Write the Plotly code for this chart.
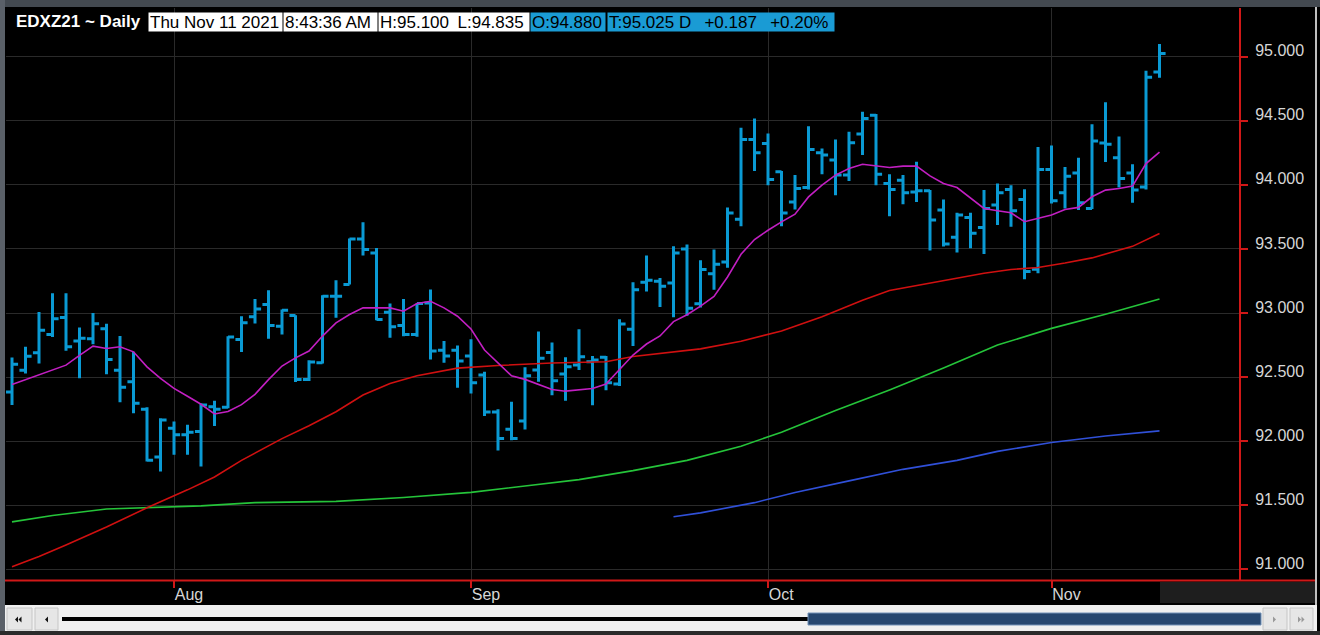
import plotly.graph_objects as go

# ---------------- data ----------------
bar_idx = list(range(86))
month_tick_idx = [12, 34, 56, 77]
month_labels = ["Aug", "Sep", "Oct", "Nov"]
price_ticks = [91.0, 91.5, 92.0, 92.5, 93.0, 93.5, 94.0, 94.5, 95.0]

opens = [92.383, 92.554, 92.689, 92.832, 92.964, 92.782, 92.800, 92.878, 92.554, 92.464,
         92.249, 91.876, 92.101, 92.049, 92.075, 92.269, 92.264, 92.794, 92.970, 93.066,
         92.897, 92.980, 92.482, 92.612, 93.131, 93.222, 93.578, 93.469, 93.006, 92.903,
         92.832, 93.079, 92.710, 92.710, 92.664, 92.516, 92.228, 92.093, 92.158, 92.555,
         92.691, 92.524, 92.594, 92.620, 92.654, 92.445, 92.873, 93.239, 93.247, 93.234,
         93.500, 93.073, 93.307, 93.398, 93.732, 94.354, 94.323, 94.102, 93.867, 93.979,
         94.250, 94.193, 94.076, 94.396, 94.544, 94.010, 94.036, 93.945, 93.953, 93.803,
         93.591, 93.746, 93.668, 93.842, 93.964, 93.886, 93.342, 94.119, 93.938, 94.093,
         93.816, 94.326, 94.212, 94.093, 93.984, 94.880]
highs = [92.653, 92.736, 93.008, 93.155, 93.155, 92.886, 93.000, 92.917, 92.821, 92.697,
         92.264, 92.179, 92.153, 92.127, 92.295, 92.316, 92.819, 92.975, 93.110, 93.178,
         93.027, 92.983, 92.632, 93.139, 93.256, 93.581, 93.708, 93.508, 93.074, 93.110,
         93.074, 93.183, 92.781, 92.747, 92.795, 92.542, 92.249, 92.307, 92.576, 92.855,
         92.769, 92.654, 92.873, 92.664, 92.664, 92.952, 93.239, 93.448, 93.273, 93.521,
         93.534, 93.411, 93.495, 93.823, 94.445, 94.518, 94.401, 94.109, 94.076, 94.458,
         94.284, 94.354, 94.414, 94.570, 94.552, 94.083, 94.076, 94.180, 93.959, 93.886,
         93.782, 93.782, 93.959, 94.010, 93.997, 93.966, 94.295, 94.308, 94.140, 94.212,
         94.472, 94.645, 94.378, 94.161, 94.891, 95.100]
lows = [92.282, 92.528, 92.606, 92.813, 92.705, 92.490, 92.756, 92.523, 92.303, 92.218,
        91.842, 91.764, 91.894, 91.894, 91.803, 92.119, 92.256, 92.695, 92.918, 92.799,
        92.832, 92.461, 92.469, 92.606, 92.962, 93.222, 93.448, 92.944, 92.806, 92.819,
        92.814, 92.638, 92.612, 92.417, 92.372, 92.197, 91.928, 92.007, 92.090, 92.463,
        92.359, 92.315, 92.555, 92.281, 92.398, 92.430, 92.743, 93.168, 93.046, 92.967,
        92.978, 93.042, 93.182, 93.354, 93.677, 94.109, 93.997, 93.677, 93.807, 93.964,
        94.083, 93.919, 94.031, 94.232, 93.997, 93.755, 93.849, 93.867, 93.487, 93.518,
        93.472, 93.505, 93.461, 93.687, 93.674, 93.264, 93.311, 93.855, 93.816, 93.803,
        93.811, 94.179, 93.979, 93.860, 93.964, 94.835]
closes = [92.601, 92.663, 92.865, 92.956, 92.736, 92.803, 92.917, 92.637, 92.420, 92.295,
          91.850, 92.166, 92.049, 92.070, 92.282, 92.249, 92.813, 92.923, 93.032, 92.903,
          93.022, 92.482, 92.617, 93.131, 93.131, 93.578, 93.495, 92.949, 92.892, 92.832,
          93.074, 92.703, 92.664, 92.625, 92.456, 92.228, 92.020, 92.020, 92.510, 92.646,
          92.471, 92.581, 92.659, 92.633, 92.456, 92.915, 93.181, 93.255, 93.208, 93.469,
          93.038, 93.339, 93.380, 93.781, 94.354, 94.250, 94.042, 93.781, 93.971, 94.276,
          94.232, 94.076, 94.328, 94.518, 94.083, 93.964, 93.938, 93.953, 93.725, 93.539,
          93.764, 93.622, 93.816, 93.938, 93.798, 93.324, 94.119, 93.876, 94.067, 93.860,
          94.342, 94.316, 94.049, 93.959, 94.839, 95.025]

magenta_ma = [92.443, 92.480, 92.516, 92.550, 92.593, 92.670, 92.741, 92.723, 92.736, 92.697,
              92.580, 92.490, 92.412, 92.350, 92.288, 92.212, 92.231, 92.285, 92.365, 92.480,
              92.586, 92.650, 92.703, 92.820, 92.923, 92.988, 93.040, 93.040, 93.040, 93.014,
              93.074, 93.092, 93.040, 92.975, 92.875, 92.711, 92.607, 92.510, 92.482, 92.445,
              92.403, 92.390, 92.398, 92.411, 92.445, 92.560, 92.672, 92.758, 92.821, 92.933,
              92.986, 93.054, 93.130, 93.281, 93.458, 93.573, 93.646, 93.711, 93.771, 93.906,
              93.997, 94.076, 94.128, 94.161, 94.146, 94.135, 94.146, 94.146, 94.070, 94.010,
              93.979, 93.894, 93.816, 93.798, 93.782, 93.712, 93.738, 93.764, 93.808, 93.824,
              93.907, 93.959, 93.972, 93.990, 94.166, 94.256]

red_idx = [0, 2, 4, 7, 10, 13, 15, 17, 20, 22, 24, 26, 28, 30, 33, 36, 40, 44, 46, 48,
           51, 54, 57, 60, 63, 65, 68, 70, 72, 74, 76, 78, 80, 83, 85]
red_ma = [91.02, 91.10, 91.19, 91.33, 91.48, 91.62, 91.72, 91.85, 92.02, 92.12, 92.23,
          92.36, 92.45, 92.51, 92.57, 92.59, 92.61, 92.62, 92.66, 92.685, 92.72, 92.78,
          92.86, 92.97, 93.10, 93.175, 93.235, 93.27, 93.31, 93.34, 93.355, 93.39, 93.43,
          93.52, 93.62]

green_idx = [0, 3, 7, 10, 14, 18, 24, 29, 34, 38, 42, 46, 50, 54, 57, 61, 65, 69, 73, 77, 81, 85]
green_ma = [91.37, 91.42, 91.47, 91.48, 91.495, 91.52, 91.53, 91.56, 91.60, 91.65, 91.70,
            91.77, 91.85, 91.96, 92.07, 92.24, 92.40, 92.57, 92.75, 92.88, 92.99, 93.11]

blue_idx = [49, 51, 55, 58, 62, 66, 70, 73, 77, 81, 85]
blue_ma = [91.41, 91.44, 91.52, 91.60, 91.69, 91.78, 91.85, 91.92, 91.99, 92.04, 92.08]

header_title = "EDXZ21 ~ Daily"
header_boxes = ["Thu Nov 11 2021", "8:43:36 AM", "H:95.100\u2002L:94.835", "O:94.880",
                "T:95.025 D\u2002 +0.187\u2002 +0.20%"]

# ---------------- geometry / style ----------------
W, H = 1320, 635
L, R, T, B = 6, 81, 8, 55
PW, PH = W - L - R, H - T - B
BAR_PX = 13.5
X0 = -6 / BAR_PX
X1 = X0 + PW / BAR_PX
Y_TOP = 95 + 48.7 / 128.15
Y_BOT = 91 - 10.7 / 128.15

BAR_COLOR = "#0a9ad4"
AXIS_RED = "#d01818"
GRID = "#2a2a2a"
LABEL = "#d6d6d6"
FONT = "Liberation Sans"


def PX(x):
    return (x - L) / PW


def PY(y):
    return (H - B - y) / PH


fig = go.Figure()

fig.add_trace(go.Scatter(x=green_idx, y=green_ma, mode="lines",
                         line=dict(color="#25c43a", width=1.6), hoverinfo="skip"))
fig.add_trace(go.Scatter(x=blue_idx, y=blue_ma, mode="lines",
                         line=dict(color="#3050d8", width=1.6), hoverinfo="skip"))
fig.add_trace(go.Scatter(x=red_idx, y=red_ma, mode="lines",
                         line=dict(color="#d01010", width=1.6), hoverinfo="skip"))
fig.add_trace(go.Scatter(x=bar_idx, y=magenta_ma, mode="lines",
                         line=dict(color="#c21fc2", width=1.6), hoverinfo="skip"))
fig.add_trace(go.Ohlc(x=bar_idx, open=opens, high=highs, low=lows, close=closes,
                      increasing=dict(line=dict(color=BAR_COLOR, width=3)),
                      decreasing=dict(line=dict(color=BAR_COLOR, width=3)),
                      tickwidth=0.45))

shapes = []
# full-width red baseline
shapes.append(dict(type="line", xref="paper", yref="paper", x0=PX(5), x1=PX(1315),
                   y0=PY(580.5), y1=PY(580.5), line=dict(color=AXIS_RED, width=2)))
# frame
shapes.append(dict(type="rect", xref="paper", yref="paper", x0=PX(0), x1=PX(1320),
                   y0=PY(7), y1=PY(-2), fillcolor="#434950", line=dict(width=0), layer="above"))
shapes.append(dict(type="rect", xref="paper", yref="paper", x0=PX(-2), x1=PX(5),
                   y0=PY(636), y1=PY(0), fillcolor="#5a6068", line=dict(width=0), layer="above"))
shapes.append(dict(type="line", xref="paper", yref="paper", x0=PX(1316), x1=PX(1316),
                   y0=PY(605), y1=PY(7), line=dict(color="#bfbfbf", width=2)))
# dark box under the price axis
shapes.append(dict(type="rect", xref="paper", yref="paper", x0=PX(1160), x1=PX(1315),
                   y0=PY(603), y1=PY(582), fillcolor="#1e1e1e", line=dict(width=0)))
# scrollbar
shapes.append(dict(type="rect", xref="paper", yref="paper", x0=PX(5), x1=PX(1317),
                   y0=PY(631), y1=PY(605), fillcolor="#f0f0f0", line=dict(width=0)))
shapes.append(dict(type="rect", xref="paper", yref="paper", x0=PX(0), x1=PX(1320),
                   y0=PY(636), y1=PY(631), fillcolor="#2b2b2b", line=dict(width=0)))
for bx0, bx1 in [(7, 32), (35, 58), (1263, 1287), (1290, 1313)]:
    shapes.append(dict(type="rect", xref="paper", yref="paper", x0=PX(bx0), x1=PX(bx1),
                       y0=PY(630), y1=PY(608), fillcolor="#e6e6e6",
                       line=dict(color="#c6c6c6", width=1)))


def tri(xa, xb, yc, h, color):
    p = "M {:.5f} {:.5f} L {:.5f} {:.5f} L {:.5f} {:.5f} Z".format(
        PX(xa), PY(yc - h), PX(xa), PY(yc + h), PX(xb), PY(yc))
    return dict(type="path", xref="paper", yref="paper", path=p,
                fillcolor=color, line=dict(width=0))


shapes += [tri(18, 15, 619.5, 3, "#111"), tri(21.5, 18.5, 619.5, 3, "#111"),
           tri(48, 45, 619.5, 3, "#111"),
           tri(1273, 1276, 619.5, 3, "#999"),
           tri(1298, 1301, 619.5, 3, "#999"), tri(1301.5, 1304.5, 619.5, 3, "#999")]
shapes.append(dict(type="line", xref="paper", yref="paper", x0=PX(62), x1=PX(810),
                   y0=PY(619), y1=PY(619), line=dict(color="#000", width=4)))
shapes.append(dict(type="rect", xref="paper", yref="paper", x0=PX(808), x1=PX(1261),
                   y0=PY(625), y1=PY(613), fillcolor="#26476f",
                   line=dict(color="#7292b8", width=1)))

annotations = []
annotations.append(dict(text="<b>" + header_title + "</b>", xref="paper", yref="paper",
                        x=PX(14), y=PY(21.5), xanchor="left", yanchor="middle", showarrow=False,
                        font=dict(family=FONT, size=17, color="#ffffff")))
box_specs = [(148, 133, "#ffffff"), (283, 93, "#ffffff"), (378, 150, "#ffffff"),
             (530, 74, "#1a9bd4"), (607, 226, "#1a9bd4")]
for (bx, bw, bg), txt in zip(box_specs, header_boxes):
    annotations.append(dict(text=txt, xref="paper", yref="paper", x=PX(bx), y=PY(21.5),
                            xanchor="left", yanchor="middle", showarrow=False,
                            width=bw - 2, height=16, align="left", borderpad=1,
                            bgcolor=bg, font=dict(family=FONT, size=17, color="#000000")))

fig.update_layout(
    width=W, height=H,
    margin=dict(l=L, r=R, t=T, b=B, pad=0),
    paper_bgcolor="#000000", plot_bgcolor="#000000",
    showlegend=False,
    shapes=shapes, annotations=annotations,
    xaxis=dict(range=[X0, X1], rangeslider=dict(visible=False),
               tickmode="array", tickvals=month_tick_idx, ticktext=month_labels,
               ticks="outside", ticklen=7, tickwidth=1.5, tickcolor=AXIS_RED,
               ticklabelposition="outside right",
               showgrid=True, gridcolor=GRID, gridwidth=1, zeroline=False,
               showline=False, tickfont=dict(family=FONT, size=16, color=LABEL)),
    yaxis=dict(range=[Y_BOT, Y_TOP], side="right",
               tickmode="array", tickvals=price_ticks,
               ticktext=["{:.3f}".format(v) for v in price_ticks],
               ticks="outside", ticklen=7, tickwidth=1.5, tickcolor=AXIS_RED,
               ticklabelshift=-6, ticklabelstandoff=4,
               showgrid=True, gridcolor=GRID, gridwidth=1, zeroline=False,
               showline=True, linecolor=AXIS_RED, linewidth=2,
               tickfont=dict(family=FONT, size=16, color=LABEL)),
)

fig.write_html("out.html", config={"displayModeBar": False},
               post_script="document.body.style.margin='0';document.body.style.overflow='hidden';")
